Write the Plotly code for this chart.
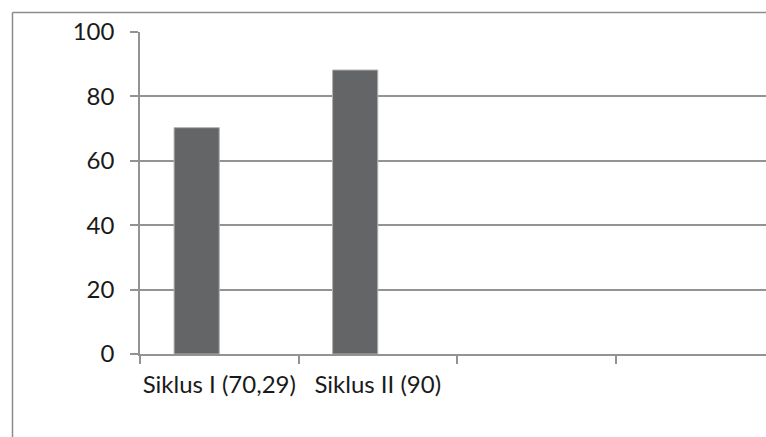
import plotly.graph_objects as go

categories = ["Siklus I (70,29)", "Siklus II (90)", " ", "  "]
series_a = [70.29, 88.2, None, None]
series_b = [None, None, None, None]
y_ticks = [0, 20, 40, 60, 80, 100]

W, H = 766, 437
L, R, T, B = 140, 0, 32, 83
pw, ph = W - L - R, H - T - B

grid = "#939393"
fnt = dict(family="Lato, Open Sans, sans-serif", size=24, color="#1a1a1a")

fig = go.Figure()
fig.add_trace(go.Bar(x=categories, y=series_a, marker=dict(color="#646567", line=dict(color="#b0b0b0", width=1))))
fig.add_trace(go.Bar(x=categories, y=series_b, marker=dict(color="#9a9a9a")))

cat_w = 158.5
fig.update_layout(
    width=W, height=H,
    margin=dict(l=L, r=R, t=T, b=B, pad=0, autoexpand=False),
    plot_bgcolor="white", paper_bgcolor="white",
    showlegend=False, barmode="group", bargap=0.43, bargroupgap=0,
    font=fnt,
    xaxis=dict(type="category", categoryorder="array", categoryarray=categories,
               range=[-0.5, -0.5 + pw / cat_w], tickson="boundaries",
               ticks="outside", ticklen=8, tickcolor=grid, tickwidth=1.5,
               showline=True, linecolor=grid, linewidth=1.5, showgrid=False,
               tickfont=fnt, ticklabelstandoff=8, tickangle=0, automargin=False),
    yaxis=dict(range=[0, 100], tickvals=y_ticks, ticks="outside", ticklen=8,
               tickcolor=grid, tickwidth=1.5, showline=True, linecolor=grid,
               linewidth=1.5, showgrid=True, gridcolor=grid, gridwidth=1.5,
               zeroline=False, tickfont=fnt, ticklabelstandoff=11, automargin=False),
)

# chart frame (cropped Excel chart border)
fx = (12.5 - L) / pw
fy = 1 + (T - 12.5) / ph
fig.add_shape(type="line", xref="paper", yref="paper", x0=fx, x1=fx, y0=-1, y1=fy,
              line=dict(color="#8c8c8c", width=1.5))
fig.add_shape(type="line", xref="paper", yref="paper", x0=fx, x1=1.2, y0=fy, y1=fy,
              line=dict(color="#8c8c8c", width=1.5))

fig.write_html("out.html")
